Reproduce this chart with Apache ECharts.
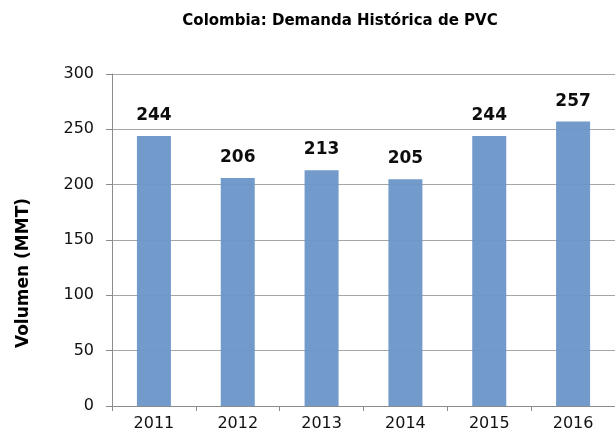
<!DOCTYPE html>
<html>
<head>
<meta charset="utf-8">
<script src="https://cdn.jsdelivr.net/npm/echarts@6/dist/echarts.min.js"></script>
<style>
  html, body { margin: 0; padding: 0; background: #fff; }
  #main { width: 615px; height: 440px; }
</style>
</head>
<body>
<div id="main"></div>
<script>
// datos
var years = ['2011', '2012', '2013', '2014', '2015', '2016'];
var demanda = [244, 206, 213, 205, 244, 257];

var myChart = echarts.init(document.getElementById('main'));
var option = {
  backgroundColor: '#fff',
  title: {
    text: 'Colombia: Demanda Histórica de PVC',
    left: 335,
    textAlign: 'center',
    top: 9,
    textStyle: { fontFamily: 'DejaVu Sans', fontWeight: 'bold', fontSize: 15, color: '#000' }
  },
  grid: { left: 112, right: -10, top: 74, bottom: 34 },
  xAxis: {
    type: 'category',
    data: years,
    axisLine: { lineStyle: { color: '#8c8c8c', width: 1 } },
    axisTick: { show: true, length: 5, lineStyle: { color: '#8c8c8c' } },
    axisLabel: { fontFamily: 'DejaVu Sans', fontSize: 16, color: '#111', margin: 10 }
  },
  yAxis: {
    type: 'value',
    min: 0, max: 300, interval: 50,
    name: 'Volumen (MMT)',
    nameLocation: 'middle',
    nameGap: 80,
    nameTextStyle: {
      fontFamily: 'DejaVu Sans', fontWeight: 'bold', fontSize: 17, color: '#000',
      padding: [0, 66, 0, 0]   // baja el titulo del eje como en el original
    },
    axisLine: { show: true, lineStyle: { color: '#8c8c8c', width: 1 } },
    axisTick: { show: true, length: 6, lineStyle: { color: '#8c8c8c' } },
    axisLabel: { fontFamily: 'DejaVu Sans', fontSize: 16, color: '#111', margin: 18 },
    splitLine: { show: true, lineStyle: { color: '#a6a6a6', width: 1 } }
  },
  series: [{
    type: 'bar',
    data: demanda,
    barWidth: 34,
    z: 1,
    itemStyle: { color: '#6a95c8', opacity: 0.95 },
    label: {
      show: true,
      position: 'top',
      distance: 12,
      fontFamily: 'DejaVu Sans',
      fontWeight: 'bold',
      fontSize: 17,
      color: '#000'
    }
  }],
  animation: false
};
myChart.setOption(option);
</script>
</body>
</html>
